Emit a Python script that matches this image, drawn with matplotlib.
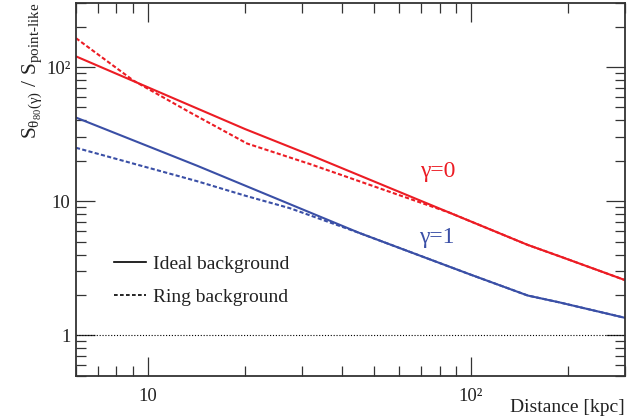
import matplotlib
matplotlib.use("Agg")
import matplotlib.pyplot as plt
from matplotlib.lines import Line2D
from matplotlib.ticker import LogLocator, FixedFormatter, FixedLocator, NullFormatter

# ---------------- data ----------------
dist_red_ideal = [6, 20, 31.8, 86, 150, 190, 300]
red_ideal = [120, 34.5, 22.1, 8.2, 4.72, 3.85, 2.58]

dist_red_ring = [6, 9.05, 13.6, 20.3, 31.8, 86, 150, 190, 300]
red_ring = [164, 79, 45.5, 26.9, 18.9, 8.2, 4.72, 3.85, 2.58]

dist_blue_ideal = [6, 14.2, 45.4, 100, 150, 188, 300]
blue_ideal = [42, 18.4, 5.77, 2.83, 1.98, 1.76, 1.35]

dist_blue_ring = [6, 14.2, 20, 27.6, 45.4, 100, 150, 188, 300]
blue_ring = [25, 14.1, 11.0, 8.85, 5.77, 2.83, 1.98, 1.76, 1.35]

x_ticks = [10, 100]
x_tick_labels = ["10", "10\u00b2"]
y_ticks = [1, 10, 100]
y_tick_labels = ["1", "10", "10\u00b2"]

RED = "#ec1c24"
BLUE = "#3a4fa6"

plt.rcParams["font.family"] = ["Liberation Serif", "DejaVu Serif"]
plt.rcParams["mathtext.fontset"] = "custom"
plt.rcParams["mathtext.rm"] = "Liberation Serif"
plt.rcParams["mathtext.it"] = "Liberation Serif"
plt.rcParams["mathtext.bf"] = "Liberation Serif:bold"

fig = plt.figure(figsize=(6.44, 4.2), dpi=100)
ax = fig.add_axes([76 / 644, 1 - 375.7 / 420, 549 / 644, 372.7 / 420])

ax.set_xscale("log")
ax.set_yscale("log")
ax.set_xlim(6, 300)
ax.set_ylim(0.5, 300)

lw = 1.5
dash = (2.0, 1.1)
ax.plot(dist_red_ideal, red_ideal, color=RED, lw=lw)
ax.plot(dist_red_ring, red_ring, color=RED, lw=lw, dashes=dash)
ax.plot(dist_blue_ideal, blue_ideal, color=BLUE, lw=lw)
ax.plot(dist_blue_ring, blue_ring, color=BLUE, lw=lw, dashes=dash)

ax.axhline(1, color="black", lw=0.8, dashes=(1, 1.6))

ax.text(79, 16.5, "\u03b3=0", color=RED, fontsize=17, ha="center", va="center")
ax.text(78.5, 5.4, "\u03b3=1", color=BLUE, fontsize=17, ha="center", va="center")

# ticks
ax.xaxis.set_major_locator(FixedLocator(x_ticks))
ax.xaxis.set_major_formatter(FixedFormatter(x_tick_labels))
ax.yaxis.set_major_locator(FixedLocator(y_ticks))
ax.yaxis.set_major_formatter(FixedFormatter(y_tick_labels))
ax.xaxis.set_minor_locator(LogLocator(base=10, subs=range(2, 10), numticks=20))
ax.yaxis.set_minor_locator(LogLocator(base=10, subs=range(2, 10), numticks=20))
ax.xaxis.set_minor_formatter(NullFormatter())
ax.yaxis.set_minor_formatter(NullFormatter())

ax.tick_params(which="both", direction="in", top=True, right=True,
               color="#333333", labelsize=13.5, labelcolor="#222222")
ax.tick_params(which="major", length=14, width=0.9)
ax.tick_params(which="minor", length=7, width=0.9)
ax.tick_params(axis="y", which="major", pad=4)
ax.tick_params(axis="x", which="major", pad=9)

for s in ax.spines.values():
    s.set_color("#333333")
    s.set_linewidth(1.3)

ax.set_xlabel("Distance [kpc]", fontsize=14, color="#222222", ha="right")
ax.xaxis.set_label_coords(1.0, -0.062)

ax.set_ylabel(r"$S_{\theta_{80}(\gamma)}\ /\ S_{\text{point-like}}$",
              fontsize=15.5, color="#222222", loc="top")
ax.yaxis.set_label_coords(-0.058, 1.0)

handles = [Line2D([], [], color="black", lw=1.2),
           Line2D([], [], color="black", lw=1.2, dashes=(2.2, 1.4))]
leg = ax.legend(handles, ["Ideal background", "Ring background"],
                loc="upper left", bbox_to_anchor=(0.069, 0.324),
                frameon=False, fontsize=14, handlelength=1.65,
                handletextpad=0.35, labelspacing=0.79,
                borderpad=0, borderaxespad=0)
for t in leg.get_texts():
    t.set_color("#222222")

fig.savefig("out.png", dpi=100)
